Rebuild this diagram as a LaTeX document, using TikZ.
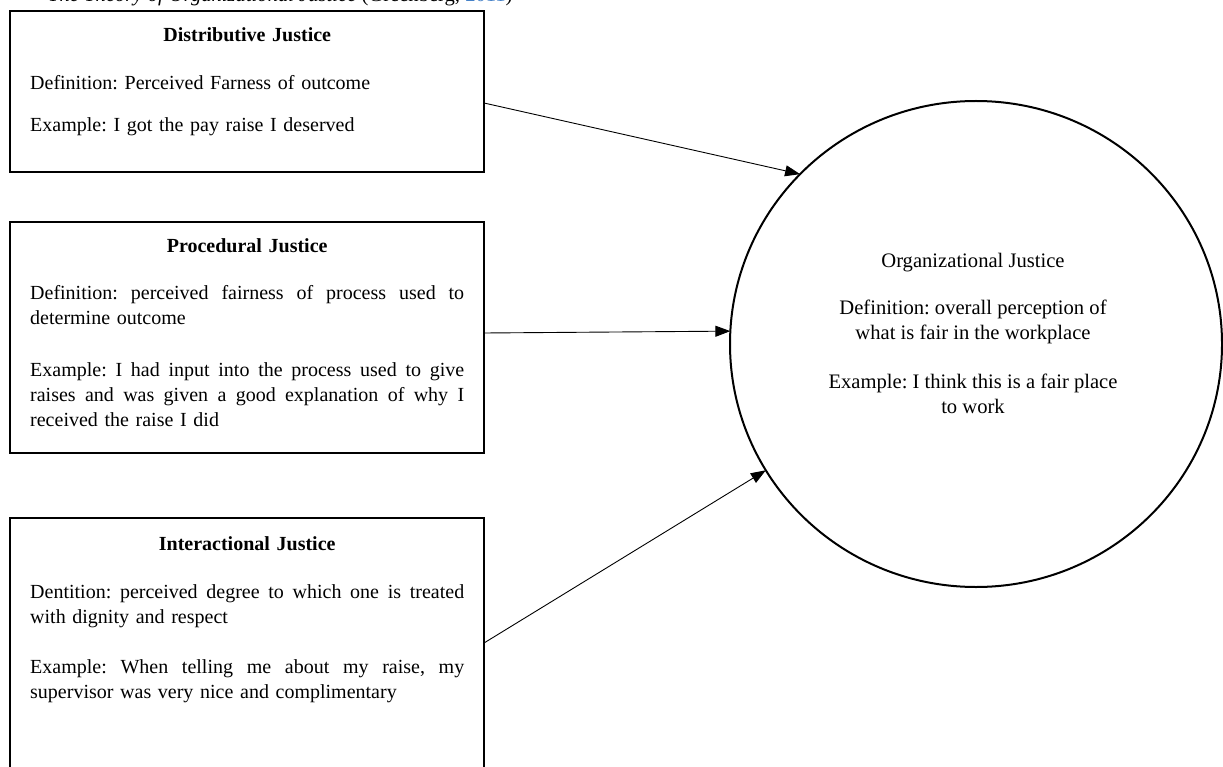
\documentclass[tikz,border=0pt]{standalone}
\usepackage{fontspec}
\setmainfont{Liberation Serif}
\usetikzlibrary{shapes.geometric,arrows.meta}
\definecolor{linkblue}{RGB}{70,130,200}
\newcommand{\jline}[1]{\leavevmode\hbox to 434pt{\spaceskip=.25em plus 4em\relax\xspaceskip=.25em plus 4em\relax #1}}
\begin{document}
\begin{tikzpicture}[x=1pt,y=-1pt,
  jbox/.style={draw, line width=2.2pt, rectangle, minimum width=474pt, anchor=north west, inner sep=0pt, outer sep=0pt},
  jtext/.style={anchor=base west, text width=434pt, inner sep=0pt, font=\fontsize{20}{25}\selectfont\frenchspacing},
  jcircle/.style={draw, line width=2pt, ellipse, minimum width=492pt, minimum height=486pt, inner sep=0pt, outer sep=0pt},
  ctext/.style={anchor=base, align=center, inner sep=0pt, font=\fontsize{20.6}{25}\selectfont\frenchspacing},
  jarrow/.style={line width=0.9pt, -{Triangle[length=15pt,width=11pt]}}
]
\useasboundingbox (0,0) rectangle (1223,767);
\fill[white] (0,0) rectangle (1223,767);

% caption, cut off at the top edge
\node[anchor=base west, inner sep=0pt, font=\fontsize{20.6}{25}\selectfont] (cap) at (48,1.5)
  {\textit{The Theory of Organizational Justice} (Greenberg, \textcolor{linkblue}{2011})};

% boxes
\node[jbox, minimum height=161pt] (b1) at (10,11) {};
\node[jbox, minimum height=231pt] (b2) at (10,222) {};
\node[jbox, minimum height=300pt] (b3) at (10,518) {};

% box texts
\node[jtext] (t1) at (30,42) {%
  \makebox[434pt][c]{\bfseries Distributive Justice}\\[23pt]
  Definition: Perceived Farness of outcome\\[17pt]
  Example: I got the pay raise I deserved};

\node[jtext] (t2) at (30,253) {%
  \makebox[434pt][c]{\bfseries Procedural Justice}\\[22pt]
  \jline{Definition: perceived fairness of process used to}\\
  determine outcome\\[27pt]
  \jline{Example: I had input into the process used to give}\\
  \jline{raises and was given a good explanation of why I}\\
  received the raise I did};

\node[jtext] (t3) at (30,550) {%
  \makebox[434pt][c]{\bfseries Interactional Justice}\\[23pt]
  \jline{Dentition: perceived degree to which one is treated}\\
  with dignity and respect\\[25pt]
  \jline{Example: When telling me about my raise, my}\\
  supervisor was very nice and complimentary};

% circle
\node[jcircle] (oj) at (976,344) {};
\node[ctext] (ct) at (973,413) {%
  Organizational Justice\\[22pt]
  Definition: overall perception of\\
  what is fair in the workplace\\[24pt]
  Example: I think this is a fair place\\
  to work};

% arrows
\draw[jarrow] ([yshift=-92pt]b1.north east) -- (oj.136.2);
\draw[jarrow] ([yshift=-111pt]b2.north east) -- (oj.177.9);
\draw[jarrow] ([yshift=-125pt]b3.north east) -- (oj.211);
\end{tikzpicture}
\end{document}
